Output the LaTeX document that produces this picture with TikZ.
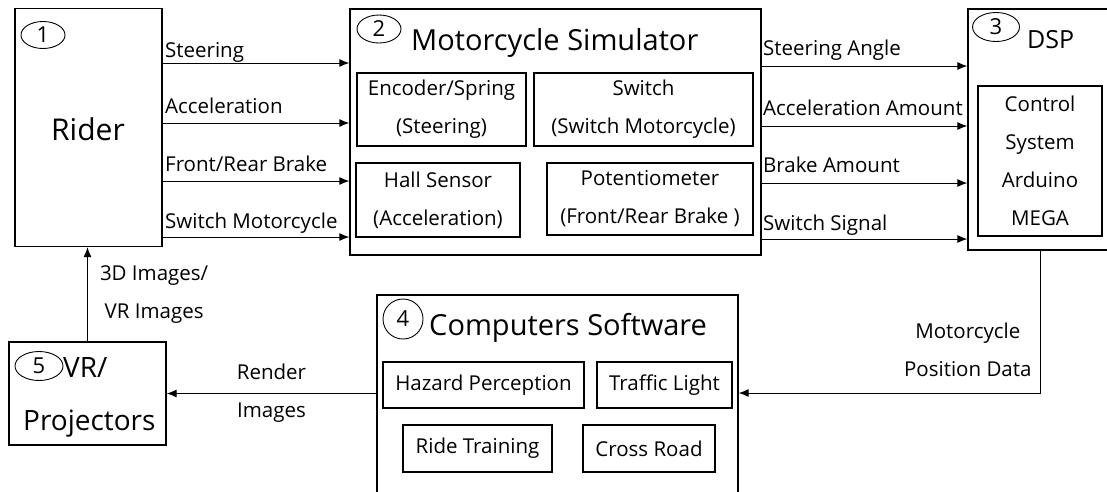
\documentclass[tikz,border=0pt]{standalone}
\usepackage{fontspec}
\setmainfont{Open Sans}
\usepackage{tikz}
\usetikzlibrary{shapes,arrows.meta,calc}
\tikzstyle{line} = [draw, -{Latex[length=10pt,width=8pt]}, line width=1pt]
\tikzstyle{block} = [draw, rectangle, line width=1.3pt, inner sep=0pt]
\tikzstyle{part} = [draw, rectangle, line width=1.2pt, align=center, inner sep=0pt, font=\fontsize{20.5}{38}\selectfont]
\tikzstyle{num} = [draw, ellipse, line width=0.9pt, inner sep=0pt, font=\fontsize{22}{22}\selectfont]
\tikzstyle{title} = [anchor=base west, inner sep=0pt, font=\fontsize{29}{29}\selectfont]
\tikzstyle{lbl} = [anchor=base west, inner sep=0pt, font=\fontsize{20.5}{20.5}\selectfont]

\begin{document}
\begin{tikzpicture}[x=1pt, y=-1pt]
    \useasboundingbox (0,0) rectangle (1107,491);
    \clip (0,0) rectangle (1107,491);
    % main blocks
    \node[block, minimum width=147, minimum height=238] (rider) at (88.5,127.5) {};
    \node[block, minimum width=411, minimum height=246] (sim) at (555.5,132) {};
    \node[block, minimum width=144, minimum height=241] (dsp) at (1040,129.5) {};
    \node[block, minimum width=361, minimum height=210] (comp) at (557.5,400) {};
    \node[block, minimum width=157, minimum height=103] (vr) at (87.5,393.5) {};
    % numbers and titles
    \node[num, minimum width=44, minimum height=27] (n1) at (43,35) {1};
    \node[font=\fontsize{30}{30}\selectfont, anchor=base, inner sep=0pt] (ridertxt) at (88,140) {Rider};
    \node[num, minimum width=44, minimum height=28] (n2) at (379,29) {2};
    \node[title] (simtxt) at (411,50) {Motorcycle Simulator};
    \node[num, minimum width=47, minimum height=29] (n3) at (996,27) {3};
    \node[title, font=\fontsize{25}{25}\selectfont] (dsptxt) at (1027,48) {DSP};
    \node[num, minimum width=40, minimum height=40] (n4) at (403,319) {4};
    \node[title] (comptxt) at (429,335) {Computers Software};
    \node[num, minimum width=48, minimum height=29] (n5) at (39,366) {5};
    \node[title, font=\fontsize{28}{28}\selectfont] (vrtxt) at (63,377) {VR/};
    \node[title, font=\fontsize{28}{28}\selectfont] (projtxt) at (23,430) {Projectors};
    % simulator parts
    \node[part, minimum width=169, minimum height=73] (enc) at (441.5,109.5) {Encoder/Spring\\(Steering)};
    \node[part, minimum width=219, minimum height=73] (sw) at (643.5,109.5) {Switch\\(Switch Motorcycle)};
    \node[part, minimum width=164, minimum height=74] (hall) at (438,200) {Hall Sensor\\(Acceleration)};
    \node[part, minimum width=206, minimum height=72] (pot) at (650,199) {Potentiometer\\(Front/Rear Brake )};
    % dsp part
    \node[part, minimum width=124, minimum height=150] (ctrl) at (1040,161) {Control\\System\\Arduino\\MEGA};
    % software parts
    \node[part, minimum width=201, minimum height=46] (hazard) at (483.5,385) {Hazard Perception};
    \node[part, minimum width=135, minimum height=46] (traffic) at (664.5,385) {Traffic Light};
    \node[part, minimum width=149, minimum height=47] (ride) at (477.5,448.5) {Ride Training};
    \node[part, minimum width=132, minimum height=47] (cross) at (649,448.5) {Cross Road};
    % signal rows
    \coordinate (l1) at (0,63);
    \coordinate (l2) at (0,123);
    \coordinate (l3) at (0,181);
    \coordinate (l4) at (0,237);
    \coordinate (r1) at (0,66);
    \coordinate (r2) at (0,126);
    \coordinate (r3) at (0,183);
    \coordinate (r4) at (0,239);
    % rider to simulator
    \path[line] (rider.east |- l1) -- (sim.west |- l1);
    \path[line] (rider.east |- l2) -- (sim.west |- l2);
    \path[line] (rider.east |- l3) -- (sim.west |- l3);
    \path[line] (rider.east |- l4) -- (sim.west |- l4);
    \node[lbl] at (165,57) {Steering};
    \node[lbl] at (165,113) {Acceleration};
    \node[lbl] at (165,171) {Front/Rear Brake};
    \node[lbl] at (165,228) {Switch Motorcycle};
    % simulator to dsp
    \path[line] (sim.east |- r1) -- (dsp.west |- r1);
    \path[line] (sim.east |- r2) -- (dsp.west |- r2);
    \path[line] (sim.east |- r3) -- (dsp.west |- r3);
    \path[line] (sim.east |- r4) -- (dsp.west |- r4);
    \node[lbl] at (763,55) {Steering Angle};
    \node[lbl] at (763,115) {Acceleration Amount};
    \node[lbl] at (763,172) {Brake Amount};
    \node[lbl] at (763,230) {Switch Signal};
    % feedback loop
    \path[line] (dsp.south) |- node[pos=0.35, left=8pt, align=center, inner sep=0pt, font=\fontsize{20.5}{38}\selectfont] {Motorcycle\\Position Data} ([yshift=7pt]comp.east);
    \path[line] (comp.west |- vr.east) -- node[midway, align=center, inner sep=0pt, font=\fontsize{20.5}{38}\selectfont] {Render\\Images} (vr.east);
    \path[line] (vr.north) -- node[midway, right=12pt, align=center, inner sep=0pt, font=\fontsize{20.5}{38}\selectfont] {3D Images/\\VR Images} (vr.north |- rider.south);
\end{tikzpicture}
\end{document}
